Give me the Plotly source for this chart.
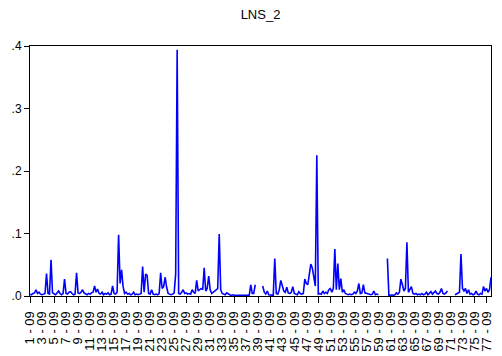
import plotly.graph_objects as go

# LNS_2 observations (panel stacked: 77 cross-sections x 4 periods), None = missing
lns_part1 = [0.003, 0.002, 0.004, 0.005, 0.010, 0.004, 0.006, 0.003, 0.002, 0.003,
             0.004, 0.036, 0.004, 0.003, 0.058, 0.005, 0.003, 0.002, 0.005, 0.008,
             0.004, 0.002, 0.004, 0.027, 0.004, 0.003, 0.006, 0.007, 0.004, 0.002,
             0.003, 0.037, 0.005, 0.004, 0.006, 0.010, 0.005, 0.003, 0.002, 0.004,
             0.003, 0.005, 0.006, 0.016, 0.006, 0.011, 0.004, 0.003, 0.006, 0.002,
             0.004, 0.003, 0.005, 0.002, 0.003, 0.016, 0.004, 0.003, 0.006, 0.098,
             0.020, 0.042, 0.015, 0.004, 0.006, 0.003, 0.004, 0.002, 0.003, 0.006,
             0.002, 0.003, 0.002, 0.003, 0.004, 0.047, 0.006, 0.035, 0.033, 0.004]
lns_part2 = [0.003, 0.010, 0.003, 0.002, 0.003, 0.002, 0.004, 0.037, 0.012, 0.015,
             0.030, 0.014, 0.004, 0.003, 0.002, 0.003, 0.005, 0.035, 0.394, 0.004,
             0.003, 0.006, 0.010, 0.004, 0.005, 0.003, 0.004, 0.003, 0.010, 0.006,
             0.004, 0.025, 0.008, 0.010, 0.012, 0.010, 0.045, 0.008, 0.012, 0.032,
             0.010, 0.004, 0.006, 0.008, 0.010, 0.012, 0.099, 0.010, 0.004, 0.003,
             0.002, 0.005, 0.003, 0.002, 0.001, 0.002, 0.001, 0.001, 0.002, 0.001,
             0.001, 0.002, 0.001, 0.001, 0.002, 0.001, 0.001, 0.018, 0.004, 0.004,
             0.018, None, None, None, None, 0.016, 0.006, 0.003, 0.008, 0.002]
lns_part3 = [0.002, 0.002, 0.001, 0.060, 0.004, 0.003, 0.010, 0.025, 0.015, 0.008,
             0.006, 0.014, 0.005, 0.004, 0.006, 0.015, 0.004, 0.003, 0.002, 0.007,
             0.004, 0.003, 0.004, 0.027, 0.020, 0.018, 0.040, 0.051, 0.045, 0.030,
             0.016, 0.225, 0.003, 0.004, 0.003, 0.008, 0.004, 0.006, 0.004, 0.010,
             0.012, 0.006, 0.012, 0.075, 0.010, 0.052, 0.010, 0.028, 0.006, 0.010,
             0.004, 0.003, 0.002, 0.003, 0.002, 0.003, 0.006, 0.004, 0.008, 0.020,
             0.004, 0.005, 0.018, 0.005, 0.004, 0.003, 0.002, 0.002, 0.003, 0.008,
             0.002, 0.003, 0.002, None, None, None, None, None, 0.060, 0.001]
lns_part4 = [0.001, 0.002, 0.001, 0.002, 0.005, 0.003, 0.006, 0.027, 0.018, 0.008,
             0.012, 0.086, 0.006, 0.010, 0.015, 0.004, 0.003, 0.004, 0.002, 0.003,
             0.002, 0.004, 0.002, 0.003, 0.006, 0.002, 0.004, 0.007, 0.003, 0.005,
             0.008, 0.004, 0.003, 0.006, 0.012, 0.004, 0.003, 0.005, 0.008, None,
             None, None, None, 0.002, 0.003, 0.004, 0.006, 0.067, 0.012, 0.008,
             0.012, 0.004, 0.010, 0.003, 0.004, 0.002, 0.003, 0.008, 0.003, 0.002,
             0.004, 0.003, 0.015, 0.008, 0.012, 0.006, 0.010, 0.030]

lns_2 = lns_part1 + lns_part2 + lns_part3 + lns_part4
obs_index = list(range(len(lns_2)))

periods_per_section = 4
x_tick_sections = list(range(1, 78, 2))
x_tick_labels = [f"{s} - 09" for s in x_tick_sections]
x_tick_pos = [(s - 1) * periods_per_section for s in x_tick_sections]

y_tick_vals = [0.0, 0.1, 0.2, 0.3, 0.4]
y_tick_text = [".0", ".1", ".2", ".3", ".4"]

fig = go.Figure()
fig.add_trace(go.Scatter(
    x=obs_index, y=lns_2, mode="lines",
    line=dict(color="#0000FF", width=1.6),
    connectgaps=False, hoverinfo="skip",
))

# the page body has an 8px margin, so the figure is sized to fit the window
fig.update_layout(
    width=494, height=348,
    margin=dict(l=22, r=11, t=38, b=60),
    paper_bgcolor="white", plot_bgcolor="white",
    showlegend=False,
    font=dict(family="Arial, Liberation Sans, sans-serif", size=12, color="black"),
    title=dict(text="LNS_2", xref="paper", x=0.5, xanchor="center",
               yref="container", y=0.982, yanchor="middle",
               font=dict(size=13, color="black")),
)
fig.update_xaxes(
    range=[0, len(lns_2) - 1],
    tickmode="array", tickvals=x_tick_pos, ticktext=x_tick_labels,
    tickangle=-90, ticks="outside", ticklen=6, tickcolor="black", tickwidth=1,
    ticklabelstandoff=3,
    showline=True, linecolor="black", linewidth=1, mirror=True,
    showgrid=False, zeroline=False, automargin=False,
    tickfont=dict(size=13),
)
fig.update_yaxes(
    range=[0, 0.4],
    tickmode="array", tickvals=y_tick_vals, ticktext=y_tick_text,
    ticks="outside", ticklen=5, tickcolor="black", tickwidth=1,
    showline=True, linecolor="black", linewidth=1, mirror=True,
    showgrid=False, zeroline=False, automargin=False,
    tickfont=dict(size=12),
)

fig.write_html("out.html")
